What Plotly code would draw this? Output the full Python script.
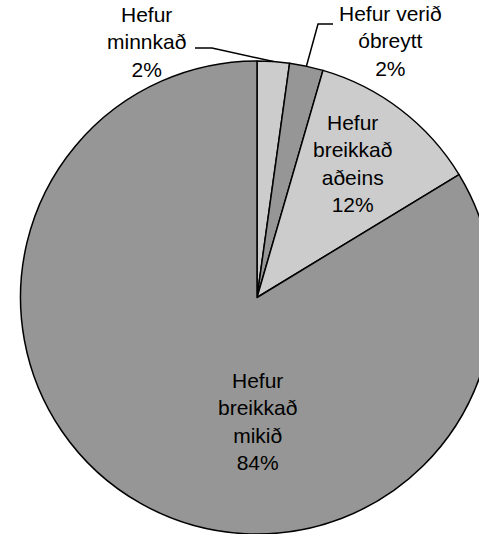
import math
import plotly.graph_objects as go

# data
labels = ["Hefur minnkað", "Hefur verið óbreytt", "Hefur breikkað aðeins", "Hefur breikkað mikið"]
label_lines = ["Hefur<br>minnkað", "Hefur verið<br>óbreytt", "Hefur<br>breikkað<br>aðeins", "Hefur<br>breikkað<br>mikið"]
values = [2.2, 2.3, 11.8, 83.7]

colors = ["#cccccc", "#969696", "#cccccc", "#969696"]

# canvas (slightly wider than the window so the pie runs off the right edge like the original)
W, H = 514, 534
cx, cy, r = 257, 297.5, 236.5
font = dict(family="Liberation Sans, Arial, sans-serif", size=21, color="black")


def px(x, y):
    return x / W, 1 - y / H


fig = go.Figure(go.Pie(
    labels=labels,
    values=values,
    sort=False,
    direction="clockwise",
    rotation=0,
    textinfo="none",
    marker=dict(colors=colors, line=dict(color="black", width=1.5)),
    domain=dict(x=[(cx - r) / W, (cx + r) / W], y=[0, (H - (cy - r)) / H]),
    showlegend=False,
))

total = sum(values)
pct = [f"{round(v / total * 100):.0f}%" for v in values]

# label placement (pixels)
label_pos = [(146, 42), (390, 41), (352, 164), (257, 421)]
for txt, p, (x, y) in zip(label_lines, pct, label_pos):
    ax, ay = px(x, y)
    fig.add_annotation(x=ax, y=ay, xref="paper", yref="paper", text=f"{txt}<br>{p}",
                       showarrow=False, xanchor="center", yanchor="middle", font=font)

# leader lines for the two small slices, ending at each slice's mid angle on the rim
cum = 0
tips = []
for v in values:
    mid = (cum + v / 2) / total * 2 * math.pi
    tips.append((cx + r * math.sin(mid), cy - r * math.cos(mid)))
    cum += v

leaders = [
    [(195, 48), (212, 48), tips[0]],
    [(333, 24), (318, 24), tips[1]],
]
for pts in leaders:
    path = "M " + " L ".join(f"{px(x, y)[0]},{px(x, y)[1]}" for x, y in pts)
    fig.add_shape(type="path", path=path, xref="paper", yref="paper",
                  line=dict(color="black", width=1.5))

fig.update_layout(
    width=W, height=H,
    margin=dict(l=0, r=0, t=0, b=0),
    paper_bgcolor="white",
    plot_bgcolor="white",
    font=font,
)

fig.write_html("out.html", config={"displayModeBar": False},
               post_script="document.body.style.margin='0';document.body.style.overflow='hidden';")
